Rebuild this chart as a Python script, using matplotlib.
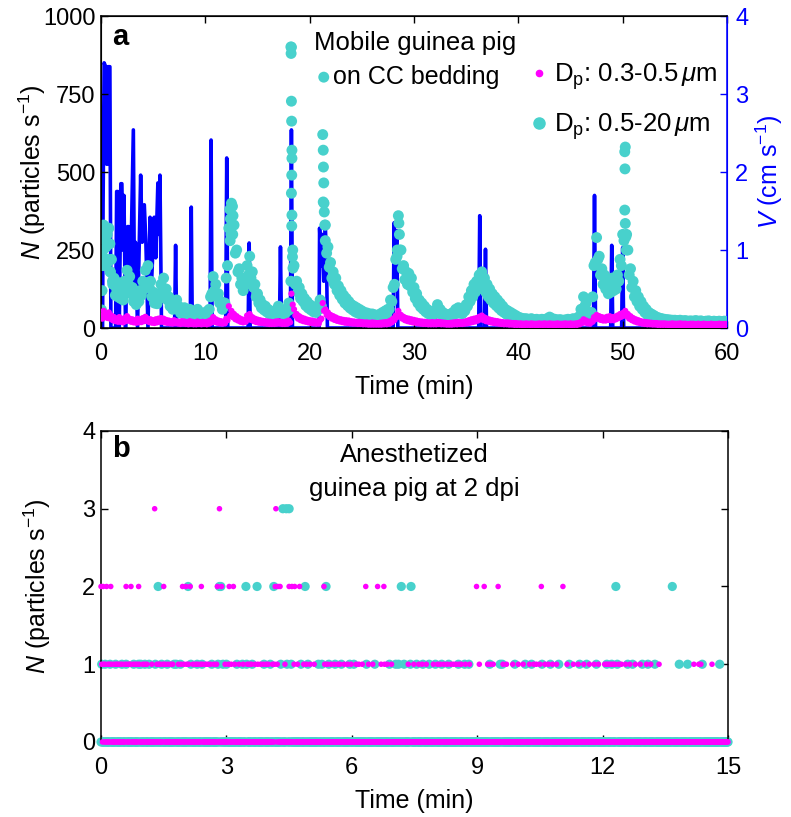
import numpy as np
import matplotlib
matplotlib.use('Agg')
import matplotlib.pyplot as plt
from matplotlib.lines import Line2D

plt.rcParams['font.family'] = ['Liberation Sans', 'DejaVu Sans']
plt.rcParams['mathtext.fontset'] = 'custom'
plt.rcParams['mathtext.rm'] = 'Liberation Sans'
plt.rcParams['mathtext.it'] = 'Liberation Sans:italic'
plt.rcParams['mathtext.bf'] = 'Liberation Sans:bold'

# ---------------- Panel a data ----------------
# sampling clock: every 0.25 min from 0 to 60 min, plus the interleaved half-step readings
t_a = np.arange(0, 60.0001, 0.25)
t_a_half = np.arange(0.125, 60, 0.25)

# N (particles/s), Dp 0.5-20 um  (readings on t_a)
cyan_a = [
    300, 330, 260, 320, 220, 160, 125, 145, 105, 150, 185, 165, 130, 105, 95, 120, 150, 185, 200, 150,
    115, 95, 110, 140, 160, 125, 100, 80, 72, 90, 68, 58, 65, 52, 60, 48, 55, 60, 50, 45,
    50, 55, 100, 165, 140, 110, 85, 68, 160, 320, 400, 330, 250, 190, 160, 140, 200, 230, 180, 140,
    110, 90, 75, 70, 60, 55, 50, 55, 70, 60, 55, 60, 80, 900, 200, 150, 130, 110, 95, 85,
    75, 70, 60, 65, 90, 620, 330, 260, 210, 180, 160, 135, 120, 105, 95, 85, 75, 70, 65, 60,
    55, 50, 48, 45, 45, 42, 40, 45, 50, 55, 60, 90, 130, 220, 360, 250, 200, 180, 175, 160,
    130, 110, 90, 80, 70, 60, 55, 50, 55, 75, 60, 50, 45, 40, 45, 50, 60, 65, 55, 60,
    75, 100, 120, 140, 150, 170, 180, 160, 140, 125, 110, 100, 90, 80, 70, 60, 55, 50, 45, 40,
    35, 32, 30, 30, 28, 30, 27, 28, 26, 28, 27, 30, 35, 30, 28, 26, 27, 25, 26, 28,
    27, 30, 28, 35, 60, 100, 80, 40, 50, 200, 290, 230, 190, 170, 150, 140, 160, 150, 170, 220,
    300, 580, 250, 190, 150, 120, 100, 85, 70, 60, 50, 45, 40, 35, 32, 30, 28, 27, 26, 25,
    25, 24, 25, 23, 24, 22, 23, 22, 24, 22, 23, 21, 22, 23, 21, 22, 21, 22, 21, 22,
    21]
# N (particles/s), Dp 0.5-20 um  (readings on t_a_half)
cyan_a_half = [
    230, 200, 210, 180, 140, 105, 100, 95, 90, 130, 140, 110, 85, 75, 85, 105, 125, 145, 130, 100,
    80, 78, 95, 115, 110, 90, 70, 60, 62, 60, 48, 48, 45, 42, 42, 40, 45, 42, 36, 38,
    40, 60, 110, 120, 100, 80, 60, 80, 200, 280, 300, 240, 180, 140, 120, 140, 170, 160, 130, 100,
    80, 65, 58, 52, 46, 42, 42, 50, 50, 46, 45, 55, 60, 250, 140, 115, 95, 85, 72, 64,
    58, 52, 50, 60, 70, 400, 240, 195, 160, 140, 120, 105, 92, 80, 72, 64, 58, 52, 48, 45,
    42, 40, 37, 36, 35, 33, 35, 38, 42, 45, 60, 85, 140, 230, 250, 190, 155, 140, 135, 115,
    95, 80, 68, 60, 52, 46, 42, 42, 52, 55, 44, 38, 34, 34, 38, 44, 50, 48, 46, 55,
    70, 85, 100, 115, 125, 135, 130, 115, 100, 90, 80, 72, 64, 56, 50, 44, 40, 36, 32, 28,
    25, 24, 22, 22, 22, 21, 21, 20, 21, 21, 22, 25, 26, 22, 21, 20, 20, 19, 20, 21,
    22, 22, 25, 35, 60, 70, 45, 35, 100, 210, 220, 170, 140, 125, 110, 115, 120, 125, 150, 200,
    280, 300, 170, 130, 100, 85, 70, 60, 50, 42, 37, 32, 28, 25, 24, 22, 21, 20, 19, 19,
    18, 18, 18, 17, 17, 17, 16, 17, 17, 16, 17, 16, 16, 17, 16, 16, 16, 16, 16, 16]

# N (particles/s), Dp 0.3-0.5 um  (readings on t_a)
mag_a = [
    40, 55, 45, 50, 40, 35, 30, 35, 28, 32, 38, 30, 28, 25, 30, 28, 32, 36, 30, 28,
    25, 28, 30, 32, 30, 26, 24, 22, 25, 22, 20, 22, 21, 19, 22, 20, 18, 21, 19, 20,
    19, 21, 25, 35, 28, 24, 22, 20, 30, 70, 55, 45, 38, 32, 28, 26, 40, 45, 35, 30,
    27, 25, 23, 22, 21, 20, 19, 21, 22, 20, 19, 21, 24, 110, 60, 45, 38, 33, 30, 27,
    25, 24, 22, 21, 25, 80, 60, 50, 42, 38, 34, 30, 28, 26, 25, 24, 22, 21, 20, 20,
    19, 18, 18, 17, 18, 17, 16, 17, 18, 19, 20, 24, 30, 40, 55, 42, 36, 32, 30, 28,
    26, 24, 22, 21, 20, 19, 18, 19, 18, 20, 19, 18, 17, 16, 17, 18, 19, 20, 19, 20,
    22, 25, 28, 30, 32, 36, 40, 34, 30, 27, 25, 23, 22, 20, 19, 18, 18, 17, 16, 16,
    15, 15, 14, 15, 14, 15, 14, 14, 15, 14, 15, 14, 15, 14, 14, 15, 14, 14, 15, 14,
    15, 14, 15, 16, 20, 28, 24, 20, 22, 35, 42, 38, 35, 33, 36, 38, 35, 36, 40, 45,
    48, 55, 45, 38, 32, 28, 25, 22, 20, 19, 18, 17, 16, 16, 15, 15, 15, 14, 14, 15,
    14, 14, 15, 14, 14, 13, 14, 14, 13, 14, 13, 14, 13, 13, 14, 13, 13, 14, 13, 13,
    13]
# N (particles/s), Dp 0.3-0.5 um  (readings on t_a_half)
mag_a_half = [
    30, 35, 32, 30, 25, 22, 20, 20, 18, 22, 24, 20, 18, 17, 18, 19, 22, 22, 19, 17,
    16, 18, 20, 20, 18, 16, 15, 14, 15, 14, 13, 14, 13, 12, 13, 12, 12, 13, 12, 13,
    12, 14, 18, 20, 17, 15, 14, 15, 25, 40, 35, 28, 24, 20, 18, 20, 28, 26, 22, 19,
    17, 16, 15, 14, 13, 13, 13, 14, 14, 13, 13, 14, 18, 75, 40, 30, 25, 22, 20, 18,
    16, 15, 14, 14, 30, 55, 42, 35, 30, 26, 23, 21, 19, 17, 16, 15, 14, 14, 13, 13,
    12, 12, 11, 11, 11, 11, 11, 11, 12, 12, 14, 18, 25, 35, 38, 30, 25, 22, 20, 18,
    17, 15, 14, 13, 13, 12, 12, 12, 12, 13, 12, 12, 11, 11, 11, 12, 12, 13, 13, 14,
    15, 17, 19, 21, 24, 28, 26, 22, 20, 18, 16, 15, 14, 13, 12, 12, 11, 11, 10, 10,
    10, 9, 9, 10, 9, 10, 9, 9, 10, 9, 10, 9, 10, 9, 9, 10, 9, 9, 10, 9,
    9, 10, 10, 12, 16, 18, 15, 14, 20, 28, 30, 26, 24, 24, 26, 25, 25, 28, 32, 36,
    40, 38, 30, 25, 21, 18, 16, 14, 13, 12, 12, 11, 11, 10, 10, 10, 10, 9, 9, 9,
    9, 9, 9, 9, 9, 8, 9, 9, 8, 9, 8, 9, 8, 8, 9, 8, 8, 9, 8, 8]

# extra cyan readings during the rapid rises (time, N)
cyan_x_t = [0.05, 0.1, 0.15, 0.2, 0.4, 0.6, 0.65, 0.85, 0.9, 1.1,
            12.35, 12.4, 12.45, 12.6, 12.65,
            18.2, 18.22, 18.25, 18.27, 18.3, 18.3, 18.28, 18.25, 18.3, 18.28, 18.35, 18.4, 18.2,
            21.35, 21.3, 21.32, 21.35, 21.3, 21.4, 21.45, 21.5,
            28.55, 28.6, 28.4,
            50.2, 50.22, 50.2, 50.25, 50.3, 50.35]
cyan_x_n = [58, 120, 200, 250, 280, 300, 220, 270, 180, 150,
            380, 350, 300, 390, 360,
            901, 880, 727, 663, 570, 544, 490, 432, 362, 327, 228, 192, 150,
            804, 570, 516, 465, 404, 372, 330, 280,
            336, 300, 250,
            565, 510, 378, 335, 292, 250]

# air velocity V (cm/s)
v_time = [0, 0.15, 0.2, 0.3, 0.45, 0.55, 0.6, 0.65, 0.85, 0.95,
          1.4, 1.5, 1.6, 1.75, 1.9, 2.0, 2.1, 2.2, 2.35, 2.55, 2.65, 2.8, 3.1, 3.2, 3.3, 3.5,
          3.8, 3.95, 4.15, 4.3, 4.5, 4.7, 4.85, 5.1, 5.25, 5.45, 5.55, 5.65, 5.8,
          7.05, 7.15, 7.25, 8.55, 8.65, 8.75, 10.45, 10.55, 10.65, 11.95, 12.05, 12.15,
          14.1, 14.2, 14.3, 17.1, 17.2, 17.3, 18.15, 18.25, 18.35,
          20.9, 20.95, 21.1, 21.2, 21.35, 21.5, 21.6, 21.7,
          28.0, 28.1, 28.2, 28.35, 28.45, 36.2, 36.3, 36.4, 36.75, 36.85, 36.95,
          47.2, 47.3, 47.4, 48.85, 48.95, 49.05, 49.9, 50.0, 50.1, 60]
v_vals = [0, 0, 1.6, 3.4, 3.35, 2.1, 2.1, 3.35, 3.35, 0,
          0, 1.75, 1.75, 0, 1.85, 1.85, 1.0, 1.7, 0, 1.3, 1.3, 0.4, 2.54, 0.5, 1.1, 0,
          1.96, 1.1, 1.58, 1.1, 0, 1.42, 0.6, 1.42, 0.9, 1.86, 1.2, 1.96, 0,
          0, 1.06, 0, 0, 1.55, 0, 0, 2.41, 0, 0, 2.18, 0,
          0, 1.09, 0, 0, 1.04, 0, 0, 2.54, 0,
          0, 1.28, 0.8, 1.2, 0.6, 1.28, 1.0, 0,
          0, 1.35, 0.6, 1.25, 0, 0, 1.44, 0, 0, 1.01, 0,
          0, 1.7, 0, 0, 1.06, 0, 0, 1.03, 0, 0]

# ---------------- Panel b data ----------------
# sampling clock: one reading per second for 15 min
t_b = np.round(np.arange(0, 15.0001, 1 / 60), 4)
# times (min) with counts of 1, 2 and 3 particles/s; all other seconds are 0
mag_b_1 = [0.02, 0.06, 0.1, 0.16, 0.2, 0.25, 0.31, 0.36, 0.4, 0.45, 0.5, 0.56, 0.62, 0.66, 0.7, 0.76,
           0.82, 0.86, 0.92, 1.0, 1.05, 1.1, 1.22, 1.28, 1.33, 1.38, 1.42, 1.48, 1.54, 1.6, 1.66, 1.72,
           1.85, 1.92, 1.98, 2.05, 2.1, 2.2, 2.26, 2.32, 2.38, 2.44, 2.5, 2.55, 2.62, 2.7, 2.76, 2.88,
           2.96, 3.05, 3.12, 3.2, 3.3, 3.4, 3.5, 3.55, 3.6, 3.68, 3.75, 3.82, 3.88, 3.95, 4.0, 4.1,
           4.15, 4.22, 4.4, 4.5, 4.62, 4.7, 4.85, 4.92, 5.0, 5.1, 5.35, 5.42, 5.5, 5.58, 5.66, 5.72,
           5.82, 5.9, 5.98, 6.1, 6.16, 6.25, 6.4, 6.5, 6.62, 6.7, 6.78, 6.85, 6.95, 7.35, 7.48, 7.6,
           7.68, 7.78, 7.95, 8.05, 8.12, 8.2, 8.28, 8.36, 8.44, 8.5, 8.56, 8.62, 8.72, 8.82, 8.98,
           9.05, 9.25, 9.32, 9.38, 9.62, 9.7, 9.85, 9.98, 10.1, 10.25, 10.35, 10.42, 10.5, 10.62,
           10.7, 10.8, 10.9, 11.05, 11.15, 11.3, 11.42, 11.55, 11.68, 11.8, 11.9, 12.05, 12.1,
           12.15, 12.2, 12.25, 12.3, 12.38, 12.45, 12.55, 12.65, 12.78, 12.9, 13.05, 13.15, 13.35,
           14.18, 14.3, 14.35, 14.62]
mag_b_2 = [0.0, 0.05, 0.14, 0.23, 0.6, 0.72, 0.9, 1.5, 1.95, 2.03, 2.13, 2.4, 2.79, 2.88, 3.06,
           3.16, 4.16, 4.23, 4.28, 4.5, 4.57, 4.64, 4.75, 5.33, 6.33, 6.62, 6.76, 8.99, 9.17, 9.5,
           10.54, 11.05]
mag_b_3 = [1.29, 2.83, 4.19]
cyan_b_1 = [0.02, 0.1, 0.22, 0.35, 0.5, 0.6, 0.78, 0.9, 0.95, 1.05, 1.15, 1.3, 1.45, 1.58, 1.75,
            1.8, 1.9, 2.15, 2.3, 2.42, 2.65, 2.8, 2.92, 3.0, 3.25, 3.38, 3.48, 3.62, 3.9, 4.05, 4.3,
            4.45, 4.55, 4.78, 4.95, 5.2, 5.28, 5.45, 5.6, 5.75, 5.95, 6.05, 6.35, 6.55, 6.9, 7.05,
            7.12, 7.18, 7.25, 7.4, 7.55, 7.7, 7.85, 8.0, 8.15, 8.32, 8.55, 8.7, 8.8, 9.3, 9.55, 9.6,
            9.9, 10.15, 10.3, 10.55, 10.75, 10.95, 11.2, 11.45, 11.62, 11.85, 12.1, 12.22, 12.35,
            12.6, 12.72, 12.95, 13.08, 13.25, 13.83, 14.04, 14.38, 14.8]
cyan_b_2 = [1.37, 2.09, 2.83, 2.87, 3.46, 3.73, 4.13, 4.89, 5.39, 7.19, 7.41, 12.32, 13.66]
cyan_b_3 = [4.35, 4.44, 4.5]


def counts_on_clock(levels):
    c = np.zeros(len(t_b))
    for lvl, times in levels:
        for tt in times:
            c[int(round(tt * 60))] = lvl
    return c


mag_b = counts_on_clock([(1, mag_b_1), (2, mag_b_2), (3, mag_b_3)])
cyan_b = counts_on_clock([(1, cyan_b_1), (2, cyan_b_2), (3, cyan_b_3)])

# ---------------- styling ----------------
FS_TICK = 17
FS = 18
FS_TXT = 18.5
CYAN = '#48D1CC'
MAG = '#FF00FF'
BLUE = '#0000FF'
S_CYAN = 62
S_MAG = 20

fig = plt.figure(figsize=(7.91, 8.17), dpi=100)

# ---- panel a ----
axa = fig.add_axes([0.1277, 0.5985, 0.7914, 0.3819])
axv = axa.twinx()
axa.set_zorder(axv.get_zorder() + 1)
axa.patch.set_visible(False)

axv.plot(v_time, v_vals, color=BLUE, lw=2.6)
axv.set_ylim(0, 4)
axv.set_yticks([0, 1, 2, 3, 4])
axv.tick_params(axis='y', colors=BLUE, direction='in', length=5, width=1,
                labelsize=FS_TICK, pad=6)
axv.spines['right'].set_color(BLUE)
axv.set_ylabel('$V$ (cm s$^{-1}$)', color=BLUE, fontsize=FS, labelpad=4)

axa.scatter(t_a, cyan_a, s=S_CYAN, c=CYAN, edgecolors='none', zorder=2)
axa.scatter(t_a_half, cyan_a_half, s=S_CYAN, c=CYAN, edgecolors='none', zorder=2)
axa.scatter(cyan_x_t, cyan_x_n, s=S_CYAN, c=CYAN, edgecolors='none', zorder=2)
axa.scatter(t_a, mag_a, s=S_MAG, c=MAG, edgecolors='none', zorder=3)
axa.scatter(t_a_half, mag_a_half, s=S_MAG, c=MAG, edgecolors='none', zorder=3)
axa.set_xlim(0, 60)
axa.set_ylim(0, 1000)
axa.set_xticks(np.arange(0, 61, 10))
axa.set_yticks([0, 250, 500, 750, 1000])
axa.tick_params(axis='both', direction='in', length=5, width=1, labelsize=FS_TICK,
                top=True, right=False)
axa.tick_params(axis='x', pad=11)
axa.tick_params(axis='y', pad=4)
axa.spines['right'].set_color(BLUE)
axa.set_xlabel('Time (min)', fontsize=FS, labelpad=7)
axa.set_ylabel('$N$ (particles s$^{-1}$)', fontsize=FS)
axa.yaxis.set_label_coords(-0.084, 0.5)
axa.text(0.0176, 0.933, 'a', transform=axa.transAxes, fontsize=21,
         fontweight='bold', ha='left', va='center')
axa.text(0.502, 0.913, 'Mobile guinea pig', transform=axa.transAxes,
         fontsize=FS_TXT, ha='center', va='center')
axa.text(0.504, 0.804, 'on CC bedding', transform=axa.transAxes,
         fontsize=FS, ha='center', va='center')

handles = [Line2D([], [], ls='none', marker='o', color=MAG, markersize=4.5),
           Line2D([], [], ls='none', marker='o', color=CYAN, markersize=8.0)]
labels = ['D$_\\mathregular{p}$: 0.3-0.5$\\,\\mu$m', 'D$_\\mathregular{p}$: 0.5-20$\\,\\mu$m']
axa.legend(handles, labels, loc='upper left', bbox_to_anchor=(0.683, 0.855),
           frameon=False, fontsize=FS_TXT, handlelength=0.8, handletextpad=0.2,
           labelspacing=0.75, borderpad=0, borderaxespad=0)

for sp in ['left', 'top', 'bottom']:
    axa.spines[sp].set_linewidth(1.1)
axv.spines['right'].set_linewidth(1.1)

# ---- panel b ----
axb = fig.add_axes([0.1277, 0.0918, 0.7927, 0.3807])
axb.scatter(t_b, cyan_b, s=44, c=CYAN, edgecolors='none', zorder=2, clip_on=False)
axb.scatter(t_b, mag_b, s=16, c=MAG, edgecolors='none', zorder=3, clip_on=False)
axb.set_xlim(0, 15)
axb.set_ylim(0, 4)
axb.set_xticks(np.arange(0, 16, 3))
axb.set_yticks([0, 1, 2, 3, 4])
axb.tick_params(axis='both', direction='in', length=5, width=1, labelsize=FS_TICK,
                top=True, right=True)
axb.tick_params(axis='x', pad=11)
axb.tick_params(axis='y', pad=4)
for sp in axb.spines.values():
    sp.set_linewidth(1.1)
axb.set_xlabel('Time (min)', fontsize=FS, labelpad=7)
axb.set_ylabel('$N$ (particles s$^{-1}$)', fontsize=FS)
axb.yaxis.set_label_coords(-0.077, 0.5)
axb.text(0.0176, 0.942, 'b', transform=axb.transAxes, fontsize=21,
         fontweight='bold', ha='left', va='center')
axb.text(0.499, 0.923, 'Anesthetized', transform=axb.transAxes,
         fontsize=FS_TXT, ha='center', va='center')
axb.text(0.499, 0.813, 'guinea pig at 2 dpi', transform=axb.transAxes,
         fontsize=FS_TXT, ha='center', va='center')

fig.savefig('out.png', dpi=100)
